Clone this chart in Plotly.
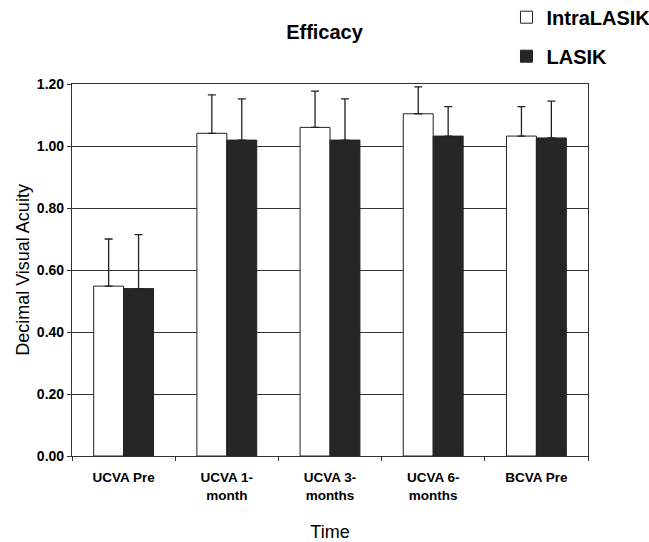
import plotly.graph_objects as go

categories = ["UCVA Pre", "UCVA 1-<br>month", "UCVA 3-<br>months", "UCVA 6-<br>months", "BCVA Pre"]
intra_values = [0.548, 1.041, 1.060, 1.104, 1.032]
intra_err = [0.152, 0.124, 0.117, 0.087, 0.095]
lasik_values = [0.540, 1.019, 1.019, 1.032, 1.026]
lasik_err = [0.174, 0.133, 0.133, 0.095, 0.119]
y_ticks = [0.0, 0.2, 0.4, 0.6, 0.8, 1.0, 1.2]

FONT = "Liberation Sans, Arial, sans-serif"

fig = go.Figure()
fig.add_trace(go.Bar(
    name="<b>IntraLASIK</b>", x=categories, y=intra_values,
    marker=dict(color="white", line=dict(color="#222222", width=1)),
    error_y=dict(type="data", array=intra_err, arrayminus=[0]*5, symmetric=False,
                 color="#222222", thickness=1.3, width=4),
    legendgroup="a",
))
fig.add_trace(go.Bar(
    name="<b>LASIK</b>", x=categories, y=lasik_values,
    marker=dict(color="#262626", line=dict(color="#222222", width=1)),
    error_y=dict(type="data", array=lasik_err, arrayminus=[0]*5, symmetric=False,
                 color="#222222", thickness=1.3, width=4),
    legendgroup="b",
))

fig.update_layout(
    width=649, height=542,
    margin=dict(l=72, r=61, t=84, b=86, autoexpand=False),
    paper_bgcolor="white", plot_bgcolor="white",
    barmode="group", bargap=0.42, bargroupgap=0,
    font=dict(family=FONT, color="black"),
    title=dict(text="<b>Efficacy</b>", x=0.5, xanchor="center", y=0.941, yanchor="middle",
               font=dict(size=20, family=FONT)),
    legend=dict(x=0.842, y=1.232, xanchor="left", yanchor="top",
                font=dict(size=20, family=FONT), tracegroupgap=10,
                bgcolor="rgba(0,0,0,0)", itemwidth=30),
    xaxis=dict(
        title=dict(text="Time", font=dict(size=18, family=FONT), standoff=24),
        tickfont=dict(size=13.5, family=FONT), ticklabelstandoff=9,
        showline=True, linecolor="#333333", linewidth=1.2, mirror=True,
        ticks="outside", tickson="boundaries", ticklen=4, tickcolor="#333333",
        showgrid=False,
    ),
    yaxis=dict(
        title=dict(text="Decimal Visual Acuity", font=dict(size=18, family=FONT), standoff=2),
        range=[0, 1.2], tickvals=y_ticks, ticktext=[f"<b>{v:.2f}</b>" for v in y_ticks],
        tickfont=dict(size=14, family=FONT),
        showline=True, linecolor="#333333", linewidth=1.2, mirror=True,
        ticks="outside", ticklen=4, tickcolor="#333333",
        showgrid=True, gridcolor="#333333", gridwidth=1, zeroline=False,
    ),
)
fig.update_xaxes(ticktext=[f"<b>{c}</b>" for c in categories], tickvals=categories)

fig.write_html("out.html")
